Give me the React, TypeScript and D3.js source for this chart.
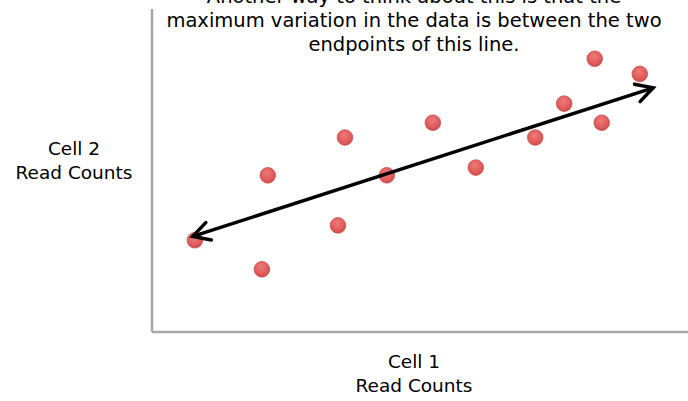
import React from "react";
import * as d3 from "d3";

const cell1 = [8.0, 20.5, 21.6, 34.7, 36.0, 43.8, 52.4, 60.4, 71.5, 76.9, 82.6, 83.9, 91.0];
const cell2 = [28.4, 19.4, 48.5, 33.0, 60.2, 48.5, 64.8, 50.9, 60.2, 70.7, 84.6, 64.8, 79.9];
const arrowStart = [7.6, 29.6];
const arrowEnd = [93.5, 75.6];
const titleLines = [
  "Another way to think about this is that the",
  "maximum variation in the data is between the two",
  "endpoints of this line.",
];
const yLabel = ["Cell 2", "Read Counts"];
const xLabel = ["Cell 1", "Read Counts"];

const W = 688, H = 401;
const x = d3.scaleLinear().domain([0, 100]).range([152, 688]);
const y = d3.scaleLinear().domain([0, 100]).range([332, 9]);
const FONT = "'DejaVu Sans', sans-serif";

export default function App() {
  const x1 = x(arrowStart[0]), y1 = y(arrowStart[1]);
  const x2 = x(arrowEnd[0]), y2 = y(arrowEnd[1]);
  const ang = Math.atan2(y2 - y1, x2 - x1);
  const head = (px: number, py: number, a: number) => {
    const L = 19, s = 0.5;
    const p1 = [px - L * Math.cos(a - s), py - L * Math.sin(a - s)];
    const p2 = [px - L * Math.cos(a + s), py - L * Math.sin(a + s)];
    return `M${p1[0]},${p1[1]} L${px},${py} L${p2[0]},${p2[1]}`;
  };
  return (
    <svg width={W} height={H} style={{ position: "absolute", left: 0, top: 0, background: "#fff" }}>
      <defs>
        <radialGradient id="dotg" cx="45%" cy="35%" r="70%">
          <stop offset="0%" stopColor="#ee7a7a" />
          <stop offset="65%" stopColor="#e05a5a" />
          <stop offset="100%" stopColor="#c94545" />
        </radialGradient>
      </defs>
      <line x1={x(0)} x2={x(0)} y1={y(100)} y2={y(0)} stroke="#a8a8a8" strokeWidth={2.5} />
      <line x1={x(0)} x2={x(100)} y1={y(0)} y2={y(0)} stroke="#a8a8a8" strokeWidth={2.5} />
      {cell1.map((v, i) => (
        <circle key={i} cx={x(v)} cy={y(cell2[i])} r={7.8} fill="url(#dotg)" stroke="#c85050" strokeWidth={0.8} />
      ))}
      <line x1={x1} y1={y1} x2={x2} y2={y2} stroke="#000" strokeWidth={3.5} strokeLinecap="round" />
      <path d={head(x2, y2, ang)} fill="none" stroke="#000" strokeWidth={3.5} strokeLinecap="round" strokeLinejoin="miter" />
      <path d={head(x1, y1, ang + Math.PI)} fill="none" stroke="#000" strokeWidth={3.5} strokeLinecap="round" strokeLinejoin="miter" />
      <g fontFamily={FONT} fill="#000" textAnchor="middle">
        {titleLines.map((t, i) => (
          <text key={i} x={414} y={3 + i * 24} fontSize={19.5}>{t}</text>
        ))}
        {yLabel.map((t, i) => (
          <text key={i} x={74} y={155 + i * 24} fontSize={18.5}>{t}</text>
        ))}
        {xLabel.map((t, i) => (
          <text key={i} x={414} y={368 + i * 24} fontSize={18.5}>{t}</text>
        ))}
      </g>
    </svg>
  );
}
